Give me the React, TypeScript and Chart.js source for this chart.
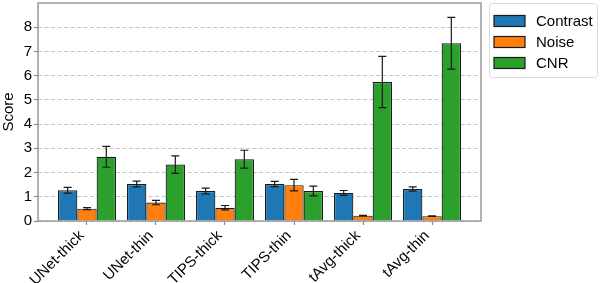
import React, { useEffect, useRef } from "react";
import { Chart, registerables } from "chart.js";

Chart.register(...registerables);

const categories = ["UNet-thick", "UNet-thin", "TIPS-thick", "TIPS-thin", "tAvg-thick", "tAvg-thin"];
const seriesNames = ["Contrast", "Noise", "CNR"];
const contrast = [1.27, 1.53, 1.24, 1.53, 1.16, 1.32];
const contrastErr = [0.12, 0.12, 0.12, 0.11, 0.1, 0.09];
const noise = [0.51, 0.76, 0.55, 1.48, 0.22, 0.2];
const noiseErr = [0.04, 0.09, 0.09, 0.24, 0.01, 0.01];
const cnr = [2.65, 2.33, 2.55, 1.24, 5.74, 7.34];
const cnrErr = [0.43, 0.36, 0.37, 0.2, 1.06, 1.07];
const yTicks = [0, 1, 2, 3, 4, 5, 6, 7, 8];
const colors = ["#1f77b4", "#ff7f0e", "#2ca02c"];

const FONT = "'Liberation Sans', Arial, Helvetica, sans-serif";

const errorBarPlugin = {
  id: "errorBars",
  afterDatasetsDraw(chart: any) {
    const ctx = chart.ctx;
    const yScale = chart.scales.y;
    ctx.save();
    ctx.strokeStyle = "#1a1a1a";
    ctx.lineWidth = 1.2;
    chart.data.datasets.forEach((ds: any, di: number) => {
      const meta = chart.getDatasetMeta(di);
      meta.data.forEach((el: any, i: number) => {
        const v = ds.data[i].y;
        const e = ds.errors[i];
        const x = el.x;
        const yt = yScale.getPixelForValue(v + e);
        const yb = yScale.getPixelForValue(v - e);
        ctx.beginPath();
        ctx.moveTo(x, yt);
        ctx.lineTo(x, yb);
        ctx.moveTo(x - 4, yt);
        ctx.lineTo(x + 4, yt);
        ctx.moveTo(x - 4, yb);
        ctx.lineTo(x + 4, yb);
        ctx.stroke();
      });
    });
    ctx.restore();
  },
};

const framePlugin = {
  id: "frameLegend",
  afterDraw(chart: any) {
    const ctx = chart.ctx;
    const a = chart.chartArea;
    ctx.save();
    ctx.strokeStyle = "#8c8c8c";
    ctx.lineWidth = 1.3;
    ctx.strokeRect(a.left, a.top, a.right - a.left, a.bottom - a.top);

    // legend
    const lx = a.right + 8;
    const ly = a.top;
    const lw = 108;
    const lh = 74;
    ctx.beginPath();
    ctx.roundRect(lx + 0.5, ly + 0.5, lw, lh, 3);
    ctx.fillStyle = "rgba(255,255,255,0.8)";
    ctx.fill();
    ctx.strokeStyle = "#dcdcdc";
    ctx.lineWidth = 1;
    ctx.stroke();
    chart.data.datasets.forEach((ds: any, i: number) => {
      const cy = ly + 18 + i * 21;
      ctx.fillStyle = ds.backgroundColor;
      ctx.fillRect(lx + 5, cy - 5.5, 31, 11);
      ctx.strokeStyle = "#1a1a1a";
      ctx.lineWidth = 1.2;
      ctx.strokeRect(lx + 5, cy - 5.5, 31, 11);
      ctx.fillStyle = "#000";
      ctx.font = `15px ${FONT}`;
      ctx.textAlign = "left";
      ctx.textBaseline = "middle";
      ctx.fillText(ds.label, lx + 47, cy + 1);
    });
    ctx.restore();
  },
};

export default function App() {
  const ref = useRef<HTMLCanvasElement | null>(null);
  useEffect(() => {
    document.body.style.margin = "0";
    const seriesVals = [contrast, noise, cnr];
    const seriesErrs = [contrastErr, noiseErr, cnrErr];
    const chart = new Chart(ref.current as HTMLCanvasElement, {
      type: "bar",
      data: {
        datasets: seriesNames.map((name, si) => ({
          label: name,
          data: categories.map((_, i) => ({ x: i, y: seriesVals[si][i] })),
          errors: seriesErrs[si],
          backgroundColor: colors[si],
          borderColor: "#1a1a1a",
          borderWidth: 1.2,
          categoryPercentage: 0.84,
          barPercentage: 1.0,
        })) as any,
      },
      options: {
        animation: false,
        responsive: false,
        layout: { padding: { top: 3, right: 119, left: 0, bottom: 0 } },
        plugins: { legend: { display: false }, tooltip: { enabled: false } },
        scales: {
          x: {
            type: "linear",
            offset: false,
            min: -0.71,
            max: 5.71,
            grid: {
              offset: false,
              drawOnChartArea: false,
              drawTicks: true,
              tickLength: 4,
              tickColor: "#8c8c8c",
              tickWidth: 1.2,
            },
            border: { display: false },
            afterBuildTicks: (scale: any) => {
              scale.ticks = categories.map((_, i) => ({ value: i }));
            },
            afterFit: (scale: any) => {
              scale.height = 62;
              scale.paddingLeft = 0;
              scale.paddingRight = 0;
            },
            ticks: {
              autoSkip: false,
              minRotation: 45,
              maxRotation: 45,
              padding: 2,
              labelOffset: -5,
              color: "#000",
              font: { size: 15, family: FONT },
              callback: (v: any) => categories[v] ?? "",
            },
          },
          y: {
            min: 0,
            max: 9,
            grid: {
              color: "#c4c4c4",
              lineWidth: 1,
              drawTicks: true,
              tickLength: 4,
              tickColor: "#8c8c8c",
              tickWidth: 1.2,
              tickBorderDash: [],
            },
            border: { display: false, dash: [4, 2.5] },
            afterBuildTicks: (scale: any) => {
              scale.ticks = yTicks.map((v) => ({ value: v }));
            },
            afterFit: (scale: any) => {
              scale.width = 38;
              scale.paddingTop = 0;
              scale.paddingBottom = 0;
            },
            ticks: {
              padding: 2,
              color: "#000",
              font: { size: 15, family: FONT },
            },
            title: {
              display: true,
              text: "Score",
              color: "#000",
              font: { size: 15, family: FONT },
              padding: { top: 0, bottom: 0 },
            },
          },
        },
      },
      plugins: [errorBarPlugin, framePlugin],
    } as any);
    return () => chart.destroy();
  }, []);
  return <canvas ref={ref} width={600} height={283} />;
}
